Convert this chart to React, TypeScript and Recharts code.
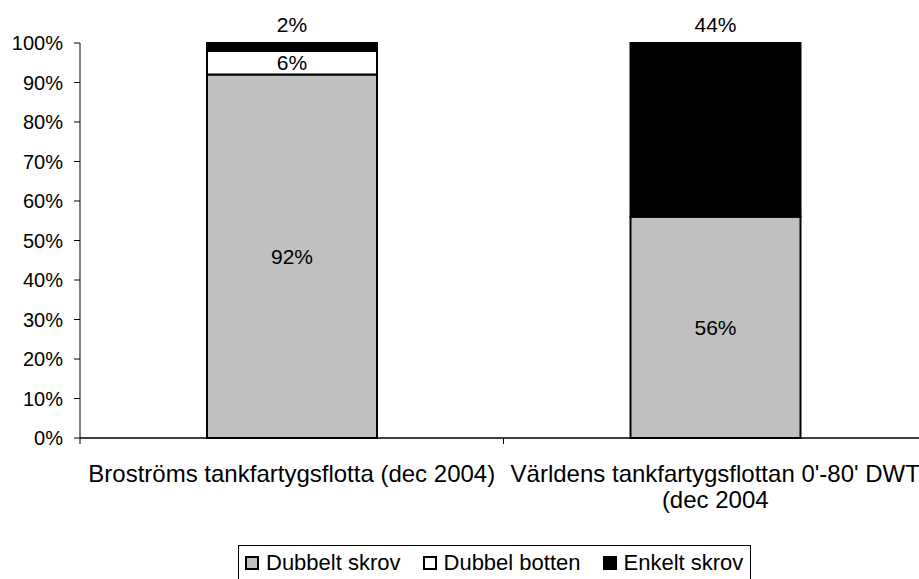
import React from "react";
import { BarChart, Bar, XAxis, YAxis, LabelList, Legend } from "recharts";

const categories = [
  "Broströms tankfartygsflotta (dec 2004)",
  "Världens tankfartygsflottan 0'-80' DWT (dec 2004",
];
const categoryLines = [
  ["Broströms tankfartygsflotta (dec 2004)"],
  ["Världens tankfartygsflottan 0'-80' DWT", "(dec 2004"],
];
const dubbeltSkrov = [92, 56];
const dubbelBotten = [6, 0];
const enkeltSkrov = [2, 44];
const yTicks = [0, 10, 20, 30, 40, 50, 60, 70, 80, 90, 100];
const boundaryTicks = [0, 1, 2];

const seriesNames = ["Dubbelt skrov", "Dubbel botten", "Enkelt skrov"];
const seriesColors = ["#C0C0C0", "#FFFFFF", "#000000"];

const data = categories.map((name, i) => ({
  name,
  idx: i,
  ds: dubbeltSkrov[i],
  db: dubbelBotten[i],
  es: enkeltSkrov[i],
}));

const FONT = "'Liberation Sans', Arial, sans-serif";

const pct = (v: any) => (v === 0 || v == null ? "" : `${v}%`);

const XTick = (props: any) => {
  const { x, y, payload } = props;
  const lines = categoryLines[payload.index] || [payload.value];
  return (
    <g>
      {lines.map((l: string, i: number) => (
        <text
          key={i}
          x={x}
          y={y + 35 + i * 26}
          textAnchor="middle"
          fontSize={24}
          fontFamily={FONT}
          fill="#000"
        >
          {l}
        </text>
      ))}
    </g>
  );
};

const EmptyTick = () => <g />;

const TopLabel = (props: any) => {
  const { x, y, width, value } = props;
  if (!value) return null;
  const cx = x + width / 2;
  const txt = `${value}%`;
  const w = txt.length * 11.5;
  return (
    <g>
      <rect x={cx - w / 2} y={y - 25} width={w} height={23} fill="#fff" />
      <text x={cx} y={y - 11} textAnchor="middle" fontSize={21} fontFamily={FONT} fill="#000">
        {txt}
      </text>
    </g>
  );
};

const LegendContent = () => (
  <div
    style={{
      display: "flex",
      alignItems: "center",
      border: "1px solid #000",
      padding: "4px 7px 4px 6px",
      fontFamily: FONT,
      fontSize: 22,
      background: "#fff",
      whiteSpace: "nowrap",
      lineHeight: "26px",
    }}
  >
    {seriesNames.map((n, i) => (
      <div key={n} style={{ display: "flex", alignItems: "center", marginRight: i < 2 ? 22 : 0 }}>
        <div
          style={{
            width: 10,
            height: 10,
            border: "2px solid #000",
            background: seriesColors[i],
            marginRight: 7,
          }}
        />
        <span>{n}</span>
      </div>
    ))}
  </div>
);

export default function App() {
  return (
    <div
      style={{
        position: "absolute",
        left: 0,
        top: 0,
        width: 919,
        height: 579,
        overflow: "hidden",
        background: "#fff",
      }}
    >
      <BarChart
        width={940}
        height={579}
        data={data}
        margin={{ top: 43, right: 13, bottom: 41, left: 0 }}
        barCategoryGap="30%"
      >
        <XAxis
          xAxisId="bnd"
          type="number"
          dataKey="idx"
          domain={[0, 2]}
          ticks={boundaryTicks}
          tick={<EmptyTick />}
          height={1}
          axisLine={{ stroke: "#000", strokeWidth: 1.5 }}
          tickLine={{ stroke: "#000", strokeWidth: 1 }}
          tickSize={6}
        />
        <XAxis
          xAxisId="cat"
          dataKey="name"
          height={99}
          interval={0}
          tickLine={false}
          axisLine={false}
          tick={<XTick />}
        />
        <YAxis
          domain={[0, 100]}
          ticks={yTicks}
          width={80}
          tickFormatter={(v: number) => `${v}%`}
          axisLine={{ stroke: "#000", strokeWidth: 1 }}
          tickLine={{ stroke: "#000", strokeWidth: 1 }}
          tickSize={6}
          tickMargin={11}
          tick={{ fill: "#000", fontSize: 20, fontFamily: FONT }}
          interval={0}
        />
        <Legend
          layout="horizontal"
          verticalAlign="middle"
          align="center"
          wrapperStyle={{ top: 545, left: 238, width: "auto" }}
          content={<LegendContent />}
        />
        <Bar
          xAxisId="cat"
          dataKey="ds"
          name={seriesNames[0]}
          stackId="a"
          fill={seriesColors[0]}
          stroke="#000"
          strokeWidth={2}
          barSize={170}
          isAnimationActive={false}
        >
          <LabelList
            dataKey="ds"
            position="center"
            formatter={pct}
            fill="#000"
            fontSize={21}
            fontFamily={FONT}
          />
        </Bar>
        <Bar
          xAxisId="cat"
          dataKey="db"
          name={seriesNames[1]}
          stackId="a"
          fill={seriesColors[1]}
          stroke="#000"
          strokeWidth={2}
          barSize={170}
          isAnimationActive={false}
        >
          <LabelList
            dataKey="db"
            position="center"
            formatter={pct}
            fill="#000"
            fontSize={21}
            fontFamily={FONT}
          />
        </Bar>
        <Bar
          xAxisId="cat"
          dataKey="es"
          name={seriesNames[2]}
          stackId="a"
          fill={seriesColors[2]}
          stroke="#000"
          strokeWidth={2}
          barSize={170}
          isAnimationActive={false}
        >
          <LabelList dataKey="es" content={<TopLabel />} />
        </Bar>
      </BarChart>
    </div>
  );
}
